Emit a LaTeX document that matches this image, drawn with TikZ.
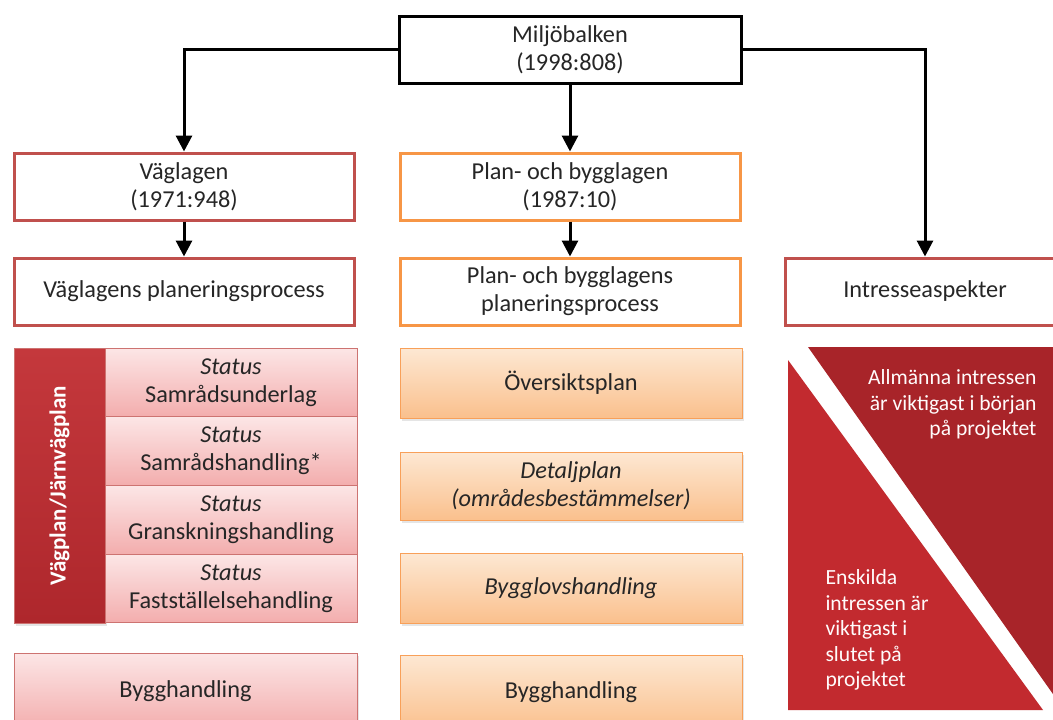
\documentclass[tikz,border=0pt]{standalone}
\usepackage{fontspec}
\setmainfont{Carlito}
\usetikzlibrary{arrows.meta,shadows}

\definecolor{lawred}{HTML}{C0504D}
\definecolor{laworange}{HTML}{F79646}
\definecolor{pinktop}{HTML}{FCE6E6}
\definecolor{pinkbot}{HTML}{F3ADAD}
\definecolor{orangetop}{HTML}{FDE8D3}
\definecolor{orangebot}{HTML}{FAC08D}
\definecolor{bartop}{HTML}{C4383C}
\definecolor{barbot}{HTML}{AE272C}
\definecolor{darkred}{HTML}{A82429}
\definecolor{midred}{HTML}{C22A2F}
\definecolor{inktext}{HTML}{262626}

\tikzset{
  lawbox/.style={draw, line width=3pt, fill=white, align=center, text=inktext,
    minimum width=340pt, minimum height=67pt, font=\fontsize{24.3}{28}\selectfont,
    drop shadow={opacity=0.15, shadow xshift=2pt, shadow yshift=-2pt}},
  redbox/.style={lawbox, draw=lawred},
  orangebox/.style={lawbox, draw=laworange},
  blackbox/.style={lawbox, draw=black},
  pinkbox/.style={draw=lawred!80, line width=1pt, top color=pinktop, bottom color=pinkbot,
    align=center, text=inktext, font=\fontsize{24.3}{28}\selectfont},
  orangefill/.style={draw=laworange!90, line width=1pt, top color=orangetop, bottom color=orangebot,
    align=center, text=inktext, font=\fontsize{24.3}{28}\selectfont,
    minimum width=342pt,
    drop shadow={opacity=0.2, shadow xshift=2pt, shadow yshift=-3pt}},
  arr/.style={line width=3pt, -{Triangle[length=16pt, width=16pt]}},
  aspect/.style={text=white!93!pink, font=\fontsize{21.6}{25.5}\selectfont}
}

\begin{document}
\begin{tikzpicture}[x=1pt, y=-1pt]
    \useasboundingbox (0,0) rectangle (1053,720);
    \clip (0,0) rectangle (1053,720);
    \fill[white] (0,0) rectangle (1053,720);

    % lagar
    \node[blackbox, minimum width=342pt] (mb) at (570,49.5) {Miljöbalken\\(1998:808)};
    \node[redbox] (vl) at (184,186.5) {Väglagen\\(1971:948)};
    \node[orangebox] (pbl) at (570,186.5) {Plan- och bygglagen\\(1987:10)};

    % processer
    \node[redbox] (vpp) at (184,291.5) {Väglagens planeringsprocess};
    \node[orangebox] (ppp) at (570,291.5) {Plan- och bygglagens\\planeringsprocess};
    \node[redbox, minimum width=280pt] (ia) at (925,291.5) {Intresseaspekter};

    \draw[arr] (mb.west) -| (vl.north);
    \draw[arr] (mb.south) -- (pbl.north);
    \draw[arr] (mb.east) -| (ia.north);
    \draw[arr] (vl.south) -- (vpp.north);
    \draw[arr] (pbl.south) -- (ppp.north);

    % vaegplan
    \node[draw=lawred!80, line width=1pt, top color=bartop, bottom color=barbot, rotate=90,
      minimum width=275pt, minimum height=91pt, text=white,
      font=\bfseries\fontsize{23}{28}\selectfont,
      drop shadow={opacity=0.2, shadow xshift=2pt, shadow yshift=-3pt}] (vp) at (59.5,485.5) {Vägplan/Järnvägplan};
    \node[pinkbox, minimum width=252pt, minimum height=68.75pt] (st1) at (231,382.4) {\textit{Status}\\Samrådsunderlag};
    \node[pinkbox, minimum width=252pt, minimum height=68.75pt] (st2) at (231,451.1) {\textit{Status}\\Samrådshandling*};
    \node[pinkbox, minimum width=252pt, minimum height=68.75pt] (st3) at (231,519.9) {\textit{Status}\\Granskningshandling};
    \node[pinkbox, minimum width=252pt, minimum height=68.75pt] (st4) at (231,588.6) {\textit{Status}\\Fastställelsehandling};
    \node[pinkbox, minimum width=343pt, minimum height=77pt,
      drop shadow={opacity=0.2, shadow xshift=2pt, shadow yshift=-3pt}] (vbh) at (185.5,691.5) {\raisebox{3pt}{Bygghandling}};

    % plan- och bygglagen
    \node[orangefill, minimum height=70pt] (op) at (571,383) {Översiktsplan};
    \node[orangefill, minimum height=68pt] (dp) at (571,486) {\textit{Detaljplan}\\\textit{(områdesbestämmelser)}};
    \node[orangefill, minimum height=70pt] (bl) at (571,588) {\textit{Bygglovshandling}};
    \node[orangefill, minimum height=75pt] (pbh) at (571,692.5) {\raisebox{4pt}{Bygghandling}};

    % intressen
    \fill[midred] (788,360) -- (788,710) -- (1043,710) -- cycle;
    \fill[darkred] (808,347) -- (1060,347) -- (1060,704) -- cycle;
    \node[aspect, align=right, anchor=north east] (ai) at (1040,366) {Allmänna intressen\\är viktigast i början\\på projektet};
    \node[aspect, align=left, anchor=north west] (ei) at (822,566) {Enskilda\\intressen är\\viktigast i\\slutet på\\projektet};
\end{tikzpicture}
\end{document}
